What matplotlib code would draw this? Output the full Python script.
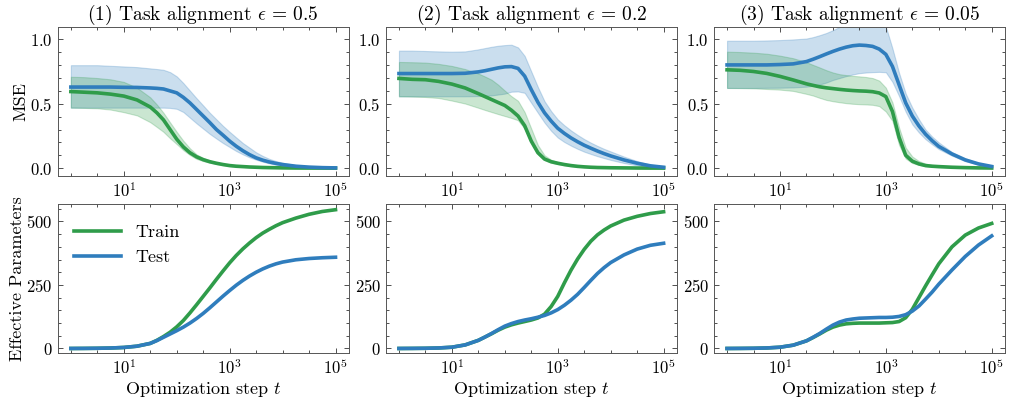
import numpy as np
import matplotlib
matplotlib.use("Agg")
import matplotlib.pyplot as plt
from matplotlib.ticker import FixedLocator, AutoMinorLocator, NullFormatter

plt.rcParams['font.family'] = 'serif'
plt.rcParams['font.serif'] = ['cmr10']
plt.rcParams['mathtext.fontset'] = 'cm'
plt.rcParams['axes.formatter.use_mathtext'] = True
plt.rcParams['axes.unicode_minus'] = False

# optimization steps, as log10(t)
log_t = [0, 0.25, 0.5, 0.75, 1, 1.25, 1.5,
         1.625, 1.75, 1.875, 2, 2.125, 2.25, 2.375, 2.5, 2.625, 2.75,
         2.875, 3, 3.125, 3.25, 3.375, 3.5, 3.625, 3.75, 3.875, 4,
         4.25, 4.5, 4.75, 5]

titles = [r'(1) Task alignment $\epsilon\,=\,0.5$',
          r'(2) Task alignment $\epsilon\,=\,0.2$',
          r'(3) Task alignment $\epsilon\,=\,0.05$']

# ---- MSE, eps = 0.5
mse_train_1 = [0.595, 0.59, 0.585, 0.575, 0.56, 0.53, 0.475,
               0.43, 0.375, 0.30, 0.225, 0.165, 0.12, 0.088, 0.066, 0.05, 0.038,
               0.028, 0.02, 0.015, 0.012, 0.009, 0.007, 0.005, 0.004, 0.003, 0.002,
               0.001, 0.0007, 0.0005, 0.0003]
mse_train_1_hi = [0.71, 0.707, 0.70, 0.69, 0.67, 0.625, 0.55,
                  0.494, 0.43, 0.355, 0.282, 0.213, 0.154, 0.107, 0.08, 0.06, 0.045,
                  0.033, 0.024, 0.018, 0.014, 0.011, 0.008, 0.006, 0.005, 0.004, 0.003,
                  0.002, 0.001, 0.0007, 0.0004]
mse_train_1_lo = [0.47, 0.468, 0.465, 0.455, 0.435, 0.41, 0.357,
                  0.32, 0.282, 0.232, 0.187, 0.14, 0.102, 0.072, 0.055, 0.042, 0.032,
                  0.024, 0.017, 0.013, 0.01, 0.007, 0.006, 0.004, 0.003, 0.002, 0.0015,
                  0.0008, 0.0005, 0.0003, 0.0002]
mse_test_1 = [0.63, 0.63, 0.63, 0.63, 0.628, 0.627, 0.623,
              0.62, 0.615, 0.60, 0.585, 0.55, 0.507, 0.456, 0.405, 0.354, 0.30,
              0.256, 0.21, 0.17, 0.135, 0.105, 0.08, 0.062, 0.048, 0.037, 0.028,
              0.015, 0.008, 0.004, 0.002]
mse_test_1_hi = [0.80, 0.80, 0.80, 0.795, 0.79, 0.785, 0.775,
                 0.77, 0.764, 0.746, 0.713, 0.661, 0.602, 0.543, 0.487, 0.43, 0.379,
                 0.328, 0.282, 0.238, 0.195, 0.159, 0.123, 0.095, 0.072, 0.055, 0.042,
                 0.024, 0.013, 0.007, 0.004]
mse_test_1_lo = [0.47, 0.47, 0.47, 0.47, 0.47, 0.47, 0.47,
                 0.47, 0.47, 0.468, 0.461, 0.436, 0.392, 0.348, 0.307, 0.266, 0.23,
                 0.195, 0.164, 0.133, 0.107, 0.084, 0.066, 0.05, 0.037, 0.027, 0.019,
                 0.009, 0.005, 0.002, 0.001]

# ---- MSE, eps = 0.2
mse_train_2 = [0.697, 0.69, 0.687, 0.674, 0.653, 0.623, 0.579,
               0.556, 0.533, 0.51, 0.487, 0.45, 0.405, 0.33, 0.21, 0.12, 0.071,
               0.05, 0.038, 0.028, 0.02, 0.014, 0.01, 0.007, 0.005, 0.004, 0.003,
               0.002, 0.001, 0.0005, 0.0003]
mse_train_2_hi = [0.825, 0.823, 0.82, 0.81, 0.794, 0.77, 0.735,
                  0.712, 0.687, 0.648, 0.602, 0.559, 0.523, 0.435, 0.307, 0.179, 0.10,
                  0.065, 0.048, 0.035, 0.025, 0.018, 0.013, 0.009, 0.007, 0.005, 0.004,
                  0.003, 0.0015, 0.0007, 0.0004]
mse_train_2_lo = [0.558, 0.556, 0.553, 0.545, 0.525, 0.502, 0.469,
                  0.452, 0.436, 0.42, 0.405, 0.39, 0.372, 0.307, 0.199, 0.11, 0.062,
                  0.042, 0.031, 0.022, 0.016, 0.011, 0.008, 0.006, 0.004, 0.003, 0.002,
                  0.0015, 0.0008, 0.0004, 0.0002]
mse_test_2 = [0.735, 0.735, 0.735, 0.735, 0.735, 0.737, 0.748,
              0.757, 0.768, 0.779, 0.787, 0.789, 0.775, 0.715, 0.61, 0.512, 0.43,
              0.366, 0.31, 0.27, 0.235, 0.205, 0.178, 0.155, 0.133, 0.113, 0.095,
              0.064, 0.038, 0.018, 0.007]
mse_test_2_hi = [0.913, 0.913, 0.91, 0.907, 0.905, 0.907, 0.923,
                 0.933, 0.943, 0.951, 0.956, 0.959, 0.938, 0.872, 0.751, 0.63, 0.52,
                 0.443, 0.379, 0.333, 0.293, 0.258, 0.226, 0.198, 0.173, 0.15, 0.13,
                 0.09, 0.055, 0.027, 0.011]
mse_test_2_lo = [0.558, 0.558, 0.558, 0.558, 0.558, 0.558, 0.56,
                 0.562, 0.565, 0.572, 0.579, 0.594, 0.596, 0.585, 0.507, 0.43, 0.354,
                 0.29, 0.238, 0.203, 0.175, 0.15, 0.128, 0.11, 0.093, 0.078, 0.064,
                 0.04, 0.022, 0.01, 0.004]

# ---- MSE, eps = 0.05
mse_train_3 = [0.764, 0.76, 0.751, 0.736, 0.713, 0.685, 0.655,
               0.643, 0.632, 0.624, 0.618, 0.612, 0.607, 0.603, 0.60, 0.598, 0.594,
               0.584, 0.556, 0.44, 0.24, 0.10, 0.054, 0.033, 0.02, 0.015, 0.012,
               0.007, 0.004, 0.002, 0.001]
mse_train_3_hi = [0.905, 0.902, 0.897, 0.889, 0.874, 0.854, 0.823,
                  0.802, 0.782, 0.761, 0.743, 0.73, 0.723, 0.717, 0.713, 0.708, 0.70,
                  0.68, 0.625, 0.51, 0.315, 0.16, 0.09, 0.055, 0.035, 0.025, 0.018,
                  0.01, 0.006, 0.003, 0.002]
mse_train_3_lo = [0.623, 0.622, 0.62, 0.615, 0.61, 0.60, 0.577,
                  0.564, 0.546, 0.53, 0.52, 0.512, 0.505, 0.50, 0.497, 0.495, 0.492,
                  0.482, 0.44, 0.367, 0.18, 0.075, 0.04, 0.025, 0.015, 0.01, 0.008,
                  0.005, 0.003, 0.001, 0.0005]
mse_test_3 = [0.802, 0.802, 0.802, 0.802, 0.805, 0.81, 0.828,
              0.846, 0.866, 0.887, 0.907, 0.925, 0.94, 0.951, 0.956, 0.953, 0.946,
              0.925, 0.884, 0.79, 0.648, 0.507, 0.405, 0.328, 0.264, 0.213, 0.169,
              0.11, 0.064, 0.033, 0.013]
mse_test_3_hi = [0.99, 0.99, 0.99, 0.992, 0.995, 1.0, 1.007,
                 1.018, 1.033, 1.05, 1.072, 1.097, 1.12, 1.14, 1.15, 1.15, 1.14,
                 1.12, 1.10, 0.93, 0.74, 0.58, 0.47, 0.38, 0.30, 0.245, 0.20,
                 0.125, 0.077, 0.04, 0.016]
mse_test_3_lo = [0.623, 0.623, 0.623, 0.624, 0.625, 0.627, 0.633,
                 0.64, 0.65, 0.665, 0.685, 0.70, 0.715, 0.728, 0.738, 0.743, 0.746,
                 0.748, 0.745, 0.67, 0.56, 0.438, 0.34, 0.277, 0.225, 0.185, 0.148,
                 0.097, 0.054, 0.027, 0.011]

# ---- effective parameters
par_train_1 = [0, 0.3, 0.8, 1.8, 4, 9, 20,
               32, 47, 64, 85, 110, 140, 172, 205, 238, 272,
               305, 337, 366, 392, 415, 436, 454, 469, 483, 495,
               513, 528, 539, 546]
par_test_1 = [0, 0.3, 0.8, 1.8, 4, 9, 20,
              31, 44, 57, 70, 84, 100, 118, 138, 160, 183,
              206, 228, 249, 268, 285, 300, 313, 324, 333, 340,
              349, 354, 357, 359]
par_train_2 = [0, 0.3, 0.8, 2, 5, 14, 32,
               45, 58, 72, 84, 93, 100, 106, 112, 120, 135,
               165, 205, 258, 308, 352, 390, 422, 447, 466, 482,
               505, 520, 531, 538]
par_test_2 = [0, 0.3, 0.8, 2, 5, 14, 32,
              45, 59, 74, 88, 98, 106, 112, 117, 123, 130,
              140, 153, 170, 190, 213, 240, 268, 295, 318, 338,
              368, 391, 406, 414]
par_train_3 = [0, 0.3, 0.8, 2, 5, 13, 30,
               43, 57, 72, 84, 92, 97, 99, 100, 100, 100,
               100, 101, 102, 106, 121, 154, 200, 246, 290, 333,
               400, 446, 474, 492]
par_test_3 = [0, 0.3, 0.8, 2, 5, 13, 30,
              44, 59, 76, 92, 104, 112, 116, 119, 120, 121,
              122, 122, 123, 126, 133, 147, 167, 194, 222, 253,
              309, 362, 407, 443]

green = '#2f9c4a'
blue = '#2f7dbd'

t = 10 ** np.array(log_t)

mse = [(mse_train_1, mse_train_1_lo, mse_train_1_hi, mse_test_1, mse_test_1_lo, mse_test_1_hi),
       (mse_train_2, mse_train_2_lo, mse_train_2_hi, mse_test_2, mse_test_2_lo, mse_test_2_hi),
       (mse_train_3, mse_train_3_lo, mse_train_3_hi, mse_test_3, mse_test_3_lo, mse_test_3_hi)]
params = [(par_train_1, par_test_1), (par_train_2, par_test_2), (par_train_3, par_test_3)]

fig, axes = plt.subplots(2, 3, figsize=(10.11, 4.0), dpi=100)
plt.subplots_adjust(left=0.057, right=0.994, top=0.932, bottom=0.118,
                    wspace=0.127, hspace=0.19)


def style(ax):
    ax.set_xscale('log')
    ax.xaxis.set_major_locator(FixedLocator([1e1, 1e3, 1e5]))
    ax.xaxis.set_minor_locator(FixedLocator(10 ** np.arange(-0.5, 5.6, 0.5)))
    ax.xaxis.set_minor_formatter(NullFormatter())
    ax.yaxis.set_minor_locator(AutoMinorLocator(5))
    ax.tick_params(which='both', direction='in', top=True, right=True,
                   labelsize=12, colors='#333333', labelcolor='black', width=0.6)
    ax.tick_params(which='major', length=3.5)
    ax.tick_params(which='minor', length=2)
    for s in ax.spines.values():
        s.set_linewidth(0.7)
        s.set_color('#555555')


for i in range(3):
    ax = axes[0, i]
    tr, tr_lo, tr_hi, te, te_lo, te_hi = mse[i]
    ax.fill_between(t, te_lo, te_hi, color=blue, alpha=0.25, lw=0.8)
    ax.fill_between(t, tr_lo, tr_hi, color=green, alpha=0.25, lw=0.8)
    ax.plot(t, tr, color=green, lw=2.6)
    ax.plot(t, te, color=blue, lw=2.6)
    ax.set_ylim(-0.06, 1.095)
    ax.set_yticks([0.0, 0.5, 1.0])
    ax.set_title(titles[i], fontsize=14, pad=4)
    style(ax)

    ax = axes[1, i]
    ax.plot(t, params[i][0], color=green, lw=2.6, label='Train')
    ax.plot(t, params[i][1], color=blue, lw=2.6, label='Test')
    ax.set_ylim(-17, 568)
    ax.set_yticks([0, 250, 500])
    ax.set_xlabel(r'Optimization step $t$', fontsize=13, labelpad=2)
    style(ax)

axes[0, 0].set_ylabel('MSE', fontsize=13, labelpad=1)
axes[1, 0].set_ylabel('Effective Parameters', fontsize=13, labelpad=1)
axes[1, 0].legend(loc='upper left', frameon=False, fontsize=13, handlelength=2.6,
                  bbox_to_anchor=(0.0, 0.97))

fig.savefig('out.png', dpi=100)
